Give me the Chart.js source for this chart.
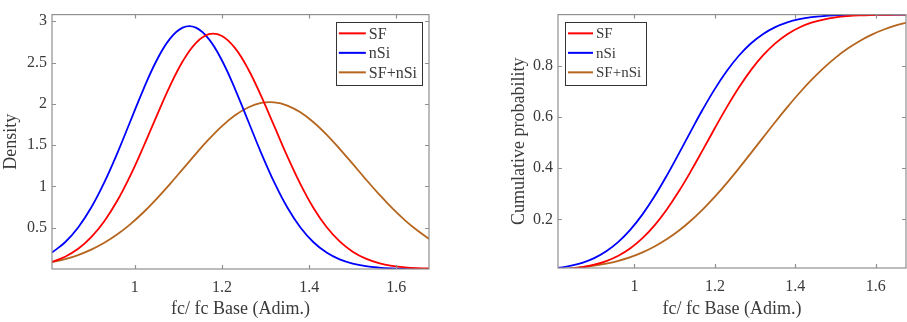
<!DOCTYPE html>
<html>
<head>
<meta charset="utf-8">
<script src="https://cdn.jsdelivr.net/npm/chart.js@4.4.1/dist/chart.umd.min.js"></script>
<style>
  html,body{margin:0;padding:0;background:#fff;}
  .wrap{position:absolute;top:0;height:322px;}
  #leftWrap{left:0;width:453px;}
  #rightWrap{left:453px;width:454px;}
</style>
</head>
<body>
<div class="wrap" id="leftWrap"><canvas id="pdfChart" width="453" height="322"></canvas></div>
<div class="wrap" id="rightWrap"><canvas id="cdfChart" width="454" height="322"></canvas></div>
<script>
const fcRatio=[0.81,0.84,0.87,0.90,0.93,0.96,0.99,1.02,1.05,1.08,1.11,1.14,1.17,1.20,1.23,1.26,1.29,1.32,1.35,1.38,1.41,1.44,1.47,1.50,1.53,1.56,1.59,1.62,1.65,1.68];

const pdfSF=[0.087,0.149,0.245,0.386,0.579,0.829,1.134,1.483,1.852,2.208,2.515,2.736,2.843,2.821,2.674,2.421,2.092,1.729,1.364,1.028,0.739,0.508,0.334,0.209,0.125,0.072,0.039,0.020,0.010,0.005];
const pdfNSi=[0.199,0.324,0.503,0.744,1.048,1.404,1.792,2.179,2.524,2.783,2.922,2.922,2.783,2.524,2.179,1.792,1.404,1.048,0.744,0.503,0.324,0.199,0.116,0.065,0.034,0.017,0.008,0.004,0.002,0.001];
const pdfMix=[0.082,0.119,0.169,0.234,0.317,0.420,0.544,0.687,0.850,1.025,1.209,1.394,1.571,1.730,1.861,1.956,2.010,2.017,1.979,1.897,1.777,1.627,1.455,1.272,1.086,0.907,0.739,0.589,0.459,0.349];

const cdfSF=[0.0041,0.0076,0.0134,0.0228,0.0371,0.0581,0.0874,0.1265,0.1765,0.2376,0.3085,0.3875,0.4715,0.5568,0.6395,0.7161,0.7840,0.8413,0.8876,0.9235,0.9498,0.9683,0.9808,0.9889,0.9938,0.9967,0.9983,0.9992,0.9996,0.9998];
const cdfNSi=[0.0101,0.0179,0.0301,0.0487,0.0754,0.1120,0.1599,0.2195,0.2902,0.3700,0.4560,0.5440,0.6300,0.7098,0.7805,0.8401,0.8880,0.9246,0.9513,0.9699,0.9821,0.9899,0.9945,0.9971,0.9986,0.9993,0.9997,0.9999,1.0,1.0];
const cdfMix=[0.0057,0.0087,0.0129,0.0189,0.0272,0.0382,0.0526,0.0711,0.0941,0.1220,0.1555,0.1946,0.2392,0.2888,0.3427,0.4001,0.4598,0.5202,0.5802,0.6383,0.6936,0.7447,0.7910,0.8320,0.8674,0.8972,0.9219,0.9418,0.9575,0.9695];

const seriesNames=['SF','nSi','SF+nSi'];
const seriesColors=['#ff0000','#0000ff','#b5651d'];

const xTicks=[1,1.2,1.4,1.6];
const xTickLabels=['1','1.2','1.4','1.6'];
const pdfTicks=[0.5,1,1.5,2,2.5,3];
const pdfTickLabels=['0.5','1','1.5','2','2.5','3'];
const cdfTicks=[0.2,0.4,0.6,0.8];
const cdfTickLabels=['0.2','0.4','0.6','0.8'];

const SERIF='"Liberation Serif","Times New Roman",serif';
const TEXT='#3a3a3a';
const FRAME='#8f8f8f';

/* ── MATLAB-like box with inward ticks ── */
const boxPlugin={
  id:'box',
  afterDatasetsDraw(chart){
    const {ctx,chartArea:a,scales:{x,y}}=chart;
    ctx.save();
    ctx.strokeStyle=FRAME;ctx.lineWidth=1.2;
    ctx.strokeRect(a.left,a.top,a.right-a.left,a.bottom-a.top);
    ctx.beginPath();
    x.ticks.forEach(t=>{
      const px=Math.round(x.getPixelForValue(t.value))+0.5;
      ctx.moveTo(px,a.bottom);ctx.lineTo(px,a.bottom-4);
      ctx.moveTo(px,a.top);ctx.lineTo(px,a.top+4);
    });
    y.ticks.forEach(t=>{
      const py=Math.round(y.getPixelForValue(t.value))+0.5;
      ctx.moveTo(a.left,py);ctx.lineTo(a.left+4,py);
      ctx.moveTo(a.right,py);ctx.lineTo(a.right-4,py);
    });
    ctx.stroke();
    ctx.restore();
  }
};

/* ── legend box drawn inside the plot area ── */
const boxLegend={
  id:'boxLegend',
  afterDraw(chart,args,opts){
    const {ctx,chartArea:a}=chart;
    const ds=chart.data.datasets;
    ctx.save();
    ctx.font=opts.size+'px '+SERIF;
    const textW=Math.max(...ds.map(d=>ctx.measureText(d.label).width));
    const w=3+opts.line+3+textW+5;
    const h=ds.length*opts.row+4;
    const left=opts.side==='right'?a.right-opts.dx-w:a.left+opts.dx;
    const top=a.top+opts.dy;
    ctx.fillStyle='#fff';
    ctx.fillRect(left,top,w,h);
    ctx.strokeStyle='#333';ctx.lineWidth=1;
    ctx.strokeRect(Math.round(left)+0.5,Math.round(top)+0.5,Math.round(w),Math.round(h));
    ds.forEach((d,i)=>{
      const cy=top+2+opts.row*(i+0.5);
      ctx.strokeStyle=d.borderColor;ctx.lineWidth=2;
      ctx.beginPath();ctx.moveTo(left+3,cy);ctx.lineTo(left+3+opts.line,cy);ctx.stroke();
      ctx.fillStyle=TEXT;ctx.textBaseline='middle';ctx.textAlign='left';
      ctx.fillText(d.label,left+6+opts.line,cy+1);
    });
    ctx.restore();
  }
};

function makeDatasets(lists){
  return lists.map((vals,i)=>({
    label:seriesNames[i],
    data:fcRatio.map((v,j)=>({x:v,y:vals[j]})),
    borderColor:seriesColors[i],
    borderWidth:1.8,
    pointRadius:0,
    tension:0.4,
    fill:false
  }));
}

function makeChart(id,cfg){
  return new Chart(document.getElementById(id),{
    type:'line',
    data:{datasets:makeDatasets(cfg.lists)},
    plugins:[boxPlugin,boxLegend],
    options:{
      responsive:false,animation:false,
      layout:{padding:cfg.padding},
      plugins:{legend:{display:false},tooltip:{enabled:false},boxLegend:cfg.legend},
      scales:{
        x:{
          type:'linear',min:0.81,max:1.675,
          afterBuildTicks:s=>{s.ticks=xTicks.map(v=>({value:v}));},
          afterFit:s=>{s.height=cfg.xHeight;},
          grid:{display:false,drawTicks:false},border:{display:false},
          ticks:{color:TEXT,font:{family:SERIF,size:16},padding:9,maxRotation:0,
            callback:v=>xTickLabels[xTicks.indexOf(v)]},
          title:{display:true,text:'fc/ fc Base (Adim.)',color:TEXT,font:{family:SERIF,size:18},padding:{top:0,bottom:2}}
        },
        y:{
          type:'linear',min:cfg.yMin,max:cfg.yMax,
          afterBuildTicks:s=>{s.ticks=cfg.yTicks.map(v=>({value:v}));},
          afterFit:s=>{s.width=cfg.yWidth;},
          grid:{display:false,drawTicks:false},border:{display:false},
          ticks:{color:TEXT,font:{family:SERIF,size:16},padding:cfg.yTickPad,
            callback:v=>cfg.yTickLabels[cfg.yTicks.indexOf(v)]},
          title:{display:true,text:cfg.yTitle,color:TEXT,font:{family:SERIF,size:18},padding:{top:cfg.yTitlePad,bottom:0}}
        }
      }
    }
  });
}

makeChart('pdfChart',{
  lists:[pdfSF,pdfNSi,pdfMix],
  padding:{top:5,right:24,left:0,bottom:0},
  xHeight:53,yWidth:52,yTickPad:5,yTitlePad:0,
  yMin:0,yMax:3.08,yTicks:pdfTicks,yTickLabels:pdfTickLabels,yTitle:'Density',
  legend:{side:'right',dx:7,dy:7,line:27,row:19.5,size:16}
});

makeChart('cdfChart',{
  lists:[cdfSF,cdfNSi,cdfMix],
  padding:{top:5,right:1,left:0,bottom:0},
  xHeight:54,yWidth:105,yTickPad:5,yTitlePad:55,
  yMin:0.01,yMax:1.0,yTicks:cdfTicks,yTickLabels:cdfTickLabels,yTitle:'Cumulative probability',
  legend:{side:'left',dx:7,dy:7,line:25,row:19.5,size:15}
});
</script>
</body>
</html>
